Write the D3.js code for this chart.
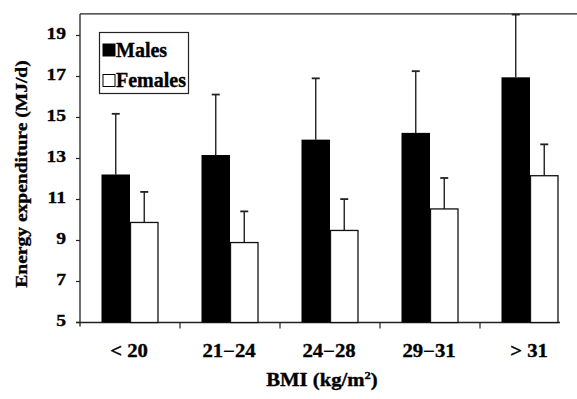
<!DOCTYPE html>
<html>
<head>
<meta charset="utf-8">
<script src="https://cdn.jsdelivr.net/npm/d3@7"></script>
<style>
  body { margin: 0; background: #fff; }
  text { font-family: "Liberation Serif", "Times New Roman", Times, serif; font-weight: bold; fill: #000; stroke: #000; stroke-width: 0.35px; }
</style>
</head>
<body>
<div id="chart"></div>
<script>
'use strict';

// BMI groups and energy expenditure (MJ/d), mean and SD
const groups = ["< 20", "21\u221224", "24\u221228", "29\u221231", "> 31"];
const males = [12.22, 13.17, 13.92, 14.25, 16.96];
const malesSD = [2.96, 2.95, 2.99, 3.01, 3.06];
const females = [9.88, 8.9, 9.49, 10.54, 12.16];
const femalesSD = [1.49, 1.52, 1.53, 1.51, 1.53];
const yTicks = [5, 7, 9, 11, 13, 15, 17, 19];

const width = 577, height = 399;
const stretch = 1.15; // the scanned type is wider than it is tall

let svg = d3.select("#chart")
  .append("svg")
    .attr("width", width)
    .attr("height", height);

svg.append("rect")
  .attr("width", width)
  .attr("height", height)
  .style("fill", "#fff");

// scales
let x = d3.scaleBand()
  .domain(groups)
  .range([80, 580])
  .padding(0);

let sex = d3.scaleBand()
  .domain(["M", "F"])
  .range([21.5, 78.5]);

let y = d3.scaleLinear()
  .domain([5, 20])
  .range([322.5, 15]);

// text helper, stretched horizontally like the scan
function label(g, str, px, py, size, anchor, rot) {
  let t = g.append("text")
    .attr("transform", "translate(" + px + "," + py + ")" + (rot ? " rotate(" + rot + ")" : "") + " scale(" + stretch + ",1)")
    .attr("text-anchor", anchor)
    .style("font-size", size + "px")
    .text(str);
  return t;
}

// frame: left axis, top border, bottom axis
svg.append("line")
  .attr("x1", 80).attr("x2", 80)
  .attr("y1", y(20.05)).attr("y2", y(5) + 4)
  .style("stroke", "#222").style("stroke-width", 1.3);
svg.append("line")
  .attr("x1", 80).attr("x2", 577)
  .attr("y1", y(20.05)).attr("y2", y(20.05))
  .style("stroke", "#222").style("stroke-width", 1.3);
svg.append("line")
  .attr("x1", 76).attr("x2", 560)
  .attr("y1", y(5)).attr("y2", y(5))
  .style("stroke", "#222").style("stroke-width", 1.3);

// y ticks and labels
let yAxis = svg.append("g");
yTicks.forEach(function(v) {
  yAxis.append("line")
    .attr("x1", 76).attr("x2", 80)
    .attr("y1", y(v)).attr("y2", y(v))
    .style("stroke", "#222").style("stroke-width", 1.2);
  label(yAxis, v, 66, y(v) + 3, 17, "end");
});

// x ticks at group boundaries, labels at centres
let xAxis = svg.append("g");
groups.forEach(function(g, i) {
  if (i > 0) {
    xAxis.append("line")
      .attr("x1", x(g)).attr("x2", x(g))
      .attr("y1", y(5)).attr("y2", y(5) + 6)
      .style("stroke", "#222").style("stroke-width", 1.2);
  }
  label(xAxis, g, x(g) + x.bandwidth() / 2 - 1, 357, 18, "middle");
});

// axis titles
let bmi = label(svg, "BMI (kg/m", 322, 386, 18, "middle");
bmi.append("tspan").attr("dy", -7).style("font-size", "11px").text("2");
bmi.append("tspan").attr("dy", 7).text(")");

label(svg, "Energy expenditure (MJ/d)", 27, 174, 17, "middle", -90);

// bars
let bars = svg.append("g");
groups.forEach(function(g, i) {
  [["M", males[i], malesSD[i]], ["F", females[i], femalesSD[i]]].forEach(function(d) {
    let bx = x(g) + sex(d[0]);
    let bw = sex.bandwidth();
    let cx = bx + bw / 2;
    // error bar first so the bar outline sits on top
    bars.append("line")
      .attr("x1", cx).attr("x2", cx)
      .attr("y1", y(d[1])).attr("y2", y(d[1] + d[2]))
      .style("stroke", "#222").style("stroke-width", 1.4);
    bars.append("line")
      .attr("x1", cx - 4).attr("x2", cx + 4)
      .attr("y1", y(d[1] + d[2])).attr("y2", y(d[1] + d[2]))
      .style("stroke", "#222").style("stroke-width", 1.8);
    bars.append("rect")
      .attr("x", d[0] == "M" ? bx : bx + 0.5)
      .attr("y", y(d[1]))
      .attr("width", d[0] == "M" ? bw : bw - 1)
      .attr("height", y(5) - y(d[1]))
      .style("fill", d[0] == "M" ? "#000" : "#fff")
      .style("stroke", "#111")
      .style("stroke-width", d[0] == "M" ? 0 : 1.3);
  });
});

// legend
let legend = svg.append("g");
legend.append("rect")
  .attr("x", 99.5).attr("y", 32.5)
  .attr("width", 89).attr("height", 61)
  .style("fill", "#fff").style("stroke", "#222").style("stroke-width", 1.2);
[["Males", "#000", 44], ["Females", "#fff", 74.5]].forEach(function(d) {
  legend.append("rect")
    .attr("x", 103).attr("y", d[2])
    .attr("width", 12).attr("height", 12)
    .style("fill", d[1]).style("stroke", "#000").style("stroke-width", 1);
  legend.append("text")
    .attr("x", 116).attr("y", d[2] + 12.5)
    .style("font-size", "20px")
    .text(d[0]);
});
</script>
</body>
</html>
